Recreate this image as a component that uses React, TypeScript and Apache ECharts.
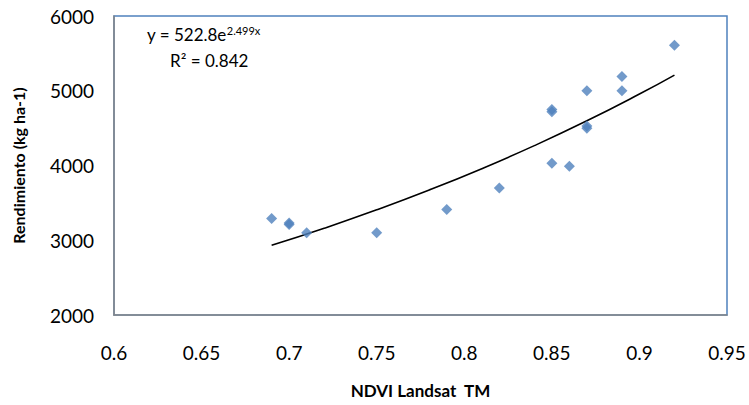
import React, { useEffect, useRef } from "react";
import * as echarts from "echarts";

const ndvi = [0.69, 0.70, 0.70, 0.71, 0.75, 0.79, 0.82, 0.85, 0.85, 0.85, 0.86, 0.87, 0.87, 0.87, 0.89, 0.89, 0.92];
const yieldKg = [3290, 3210, 3230, 3100, 3100, 3410, 3700, 4720, 4750, 4030, 3990, 5000, 4500, 4530, 5190, 5000, 5610];
// Trendline coefficients as printed on the chart: y = A * e^(B x)
const trendA = 522.8;
const trendB = 2.499;
const trendX = [0.69, 0.72, 0.75, 0.78, 0.81, 0.84, 0.87, 0.9, 0.92];
const xTicks = { min: 0.6, max: 0.95, interval: 0.05 };
const yTicks = { min: 2000, max: 6000, interval: 1000 };

const FONT = "Lato";

export default function App() {
  const ref = useRef<HTMLDivElement>(null);
  useEffect(() => {
    if (!ref.current) return;
    const chart = echarts.init(ref.current, null, { renderer: "svg" });
    const points = ndvi.map((x, i) => [x, yieldKg[i]]);
    const trend = trendX.map((x) => [x, trendA * Math.exp(trendB * x)]);
    chart.setOption({
      animation: false,
      backgroundColor: "#fff",
      grid: {
        left: 114,
        right: 22,
        top: 16,
        bottom: 90,
        show: true,
        borderColor: "#4F81BD",
        borderWidth: 1.5,
        backgroundColor: "transparent",
      },
      xAxis: {
        type: "value",
        min: xTicks.min,
        max: xTicks.max,
        interval: xTicks.interval,
        name: "NDVI Landsat  TM",
        nameLocation: "middle",
        nameGap: 67,
        nameTextStyle: { fontFamily: FONT, fontWeight: "bold", fontSize: 17, color: "#000" },
        axisLine: { show: true, lineStyle: { color: "#868686", width: 1.5 } },
        axisTick: { show: false },
        splitLine: { show: false },
        axisLabel: {
          fontFamily: FONT,
          fontSize: 19,
          color: "#000",
          margin: 28,
          formatter: (v: number) => String(parseFloat(v.toFixed(2))),
        },
      },
      yAxis: {
        type: "value",
        min: yTicks.min,
        max: yTicks.max,
        interval: yTicks.interval,
        name: "Rendimiento (kg ha-1)",
        nameLocation: "middle",
        nameGap: 88,
        nameTextStyle: { fontFamily: FONT, fontWeight: "bold", fontSize: 16, color: "#000" },
        axisLine: { show: true, lineStyle: { color: "#868686", width: 1.5 } },
        axisTick: { show: false },
        splitLine: { show: false },
        axisLabel: {
          fontFamily: FONT,
          fontSize: 19,
          color: "#000",
          margin: 20,
          formatter: (v: number) => String(v),
        },
      },
      series: [
        {
          type: "line",
          data: trend,
          smooth: true,
          showSymbol: false,
          lineStyle: { color: "#000", width: 1.6 },
          z: 2,
        },
        {
          type: "scatter",
          data: points,
          symbol: "diamond",
          symbolSize: 11,
          itemStyle: { color: "#4F81BD" },
          z: 3,
        },
      ],
      graphic: [
        {
          type: "text",
          left: 147,
          top: 25,
          style: {
            rich: {
              m: { fontFamily: FONT, fontSize: 17, fill: "#000" },
              s: { fontFamily: FONT, fontSize: 11, fill: "#000", verticalAlign: "top", padding: [0, 0, 8, 0] },
            },
            text: "{m|y = 522.8e}{s|2.499x}",
          },
        },
        {
          type: "text",
          left: 170,
          top: 52,
          style: { text: "R² = 0.842", fontFamily: FONT, fontSize: 17, fill: "#000" },
        },
      ],
    });
    return () => chart.dispose();
  }, []);
  return <div ref={ref} style={{ width: 749, height: 405, position: "absolute", left: 0, top: 0 }} />;
}
